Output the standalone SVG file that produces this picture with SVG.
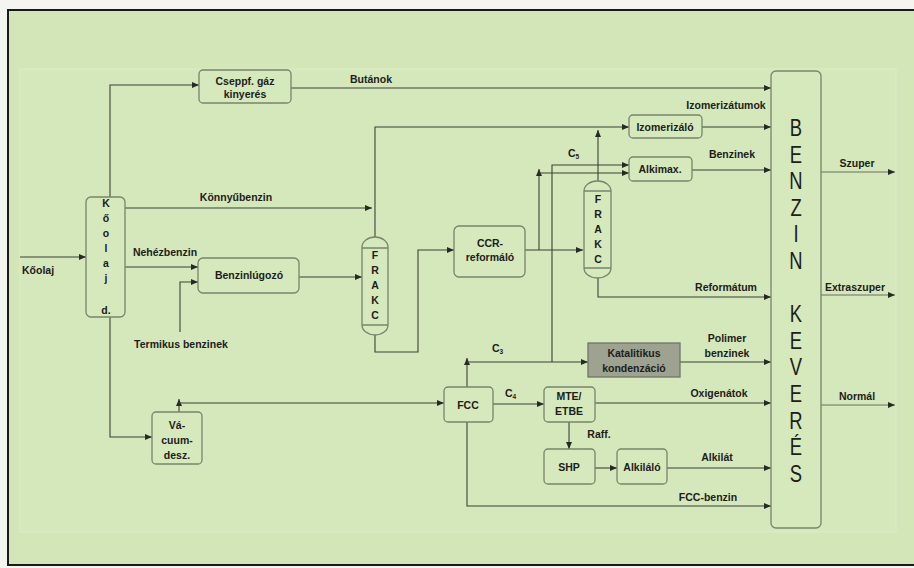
<svg xmlns="http://www.w3.org/2000/svg" width="914" height="568" viewBox="0 0 914 568">
  <style>
    .bg { fill: #d3e6b8; }
    .inner { fill: #d5e8bb; stroke: #dbebc5; stroke-width: 1.2; }
    .frame { fill: none; stroke: #1a1a1a; stroke-width: 2; }
    .box { fill: #d6e9bd; stroke: #78846c; stroke-width: 1.3; }
    .dark { fill: #9da291; stroke: #6f7566; stroke-width: 1.3; }
    .ln { fill: none; stroke: #3c4137; stroke-width: 1.1; }
    .out { fill: none; stroke: #5a6052; stroke-width: 0.9; }
    text { font-family: "Liberation Sans", Arial, sans-serif; fill: #1d2019; }
    .t { font-size: 10.5px; font-weight: bold; text-anchor: middle; }
    .tl { font-size: 10.5px; font-weight: bold; }
    .big { font-size: 23px; text-anchor: middle; }
    .sub { font-size: 6.5px; }
  </style>
  <defs>
    <marker id="ah" viewBox="0 0 7 6" refX="7" refY="3" markerWidth="7" markerHeight="6" markerUnits="userSpaceOnUse" orient="auto">
      <path d="M0,0 L7,3 L0,6 z" fill="#262a22"/>
    </marker>
  </defs>

  <!-- page and panel -->
  <rect x="0" y="0" width="914" height="568" fill="#f4f5f1"/>
  <rect class="bg" x="8" y="10" width="906" height="555"/>
  <rect class="inner" x="20" y="69" width="876" height="463"/>
  <path class="frame" d="M914,10 H8 V565 H914"/>

  <!-- connectors -->
  <g id="connectors">
    <path class="ln" d="M20,257 H86" marker-end="url(#ah)"/>
    <path class="ln" d="M110,197 V85 H199" marker-end="url(#ah)"/>
    <path class="ln" d="M291,88 H771" marker-end="url(#ah)"/>
    <path class="ln" d="M125,208 H372" marker-end="url(#ah)"/>
    <path class="ln" d="M125,267 H198" marker-end="url(#ah)"/>
    <path class="ln" d="M180,332 V282 H198" marker-end="url(#ah)"/>
    <path class="ln" d="M299,277 H362" marker-end="url(#ah)"/>
    <path class="ln" d="M375,237 V127 H629" marker-end="url(#ah)"/>
    <path class="ln" d="M375,335 V352 H418 V250 H454" marker-end="url(#ah)"/>
    <path class="ln" d="M525,250 H583" marker-end="url(#ah)"/>
    <path class="ln" d="M539,250 V169" marker-end="url(#ah)"/>
    <path class="ln" d="M539,173 H629" marker-end="url(#ah)"/>
    <path class="ln" d="M598,181 V130" marker-end="url(#ah)"/>
    <path class="ln" d="M598,278 V297 H771" marker-end="url(#ah)"/>
    <path class="ln" d="M552,362 V165 H629" marker-end="url(#ah)"/>
    <path class="ln" d="M702,127 H771" marker-end="url(#ah)"/>
    <path class="ln" d="M692,170 H771" marker-end="url(#ah)"/>
    <path class="ln" d="M110,317 V437 H152" marker-end="url(#ah)"/>
    <path class="ln" d="M179,412 V399" marker-end="url(#ah)"/>
    <path class="ln" d="M179,403 H444" marker-end="url(#ah)"/>
    <path class="ln" d="M467,387 V358" marker-end="url(#ah)"/>
    <path class="ln" d="M467,362 H588" marker-end="url(#ah)"/>
    <path class="ln" d="M680,362 H771" marker-end="url(#ah)"/>
    <path class="ln" d="M493,404 H544" marker-end="url(#ah)"/>
    <path class="ln" d="M595,403 H771" marker-end="url(#ah)"/>
    <path class="ln" d="M569,422 V449" marker-end="url(#ah)"/>
    <path class="ln" d="M595,468 H617" marker-end="url(#ah)"/>
    <path class="ln" d="M667,468 H771" marker-end="url(#ah)"/>
    <path class="ln" d="M467,422 V506 H771" marker-end="url(#ah)"/>
    <path class="out" d="M821,172 H895" marker-end="url(#ah)"/>
    <path class="out" d="M821,295 H895" marker-end="url(#ah)"/>
    <path class="out" d="M821,405 H895" marker-end="url(#ah)"/>

    <!-- stream labels -->
    <text class="tl" x="22" y="274">Kőolaj</text>
    <text class="t" x="371" y="83">Butánok</text>
    <text class="t" x="236" y="201">Könnyűbenzin</text>
    <text class="t" x="165" y="256">Nehézbenzin</text>
    <text class="t" x="181" y="348">Termikus benzinek</text>
    <text class="t" x="726" y="109">Izomerizátumok</text>
    <text class="t" x="732" y="158">Benzinek</text>
    <text class="tl" x="568" y="157">C<tspan class="sub" dy="1.5">5</tspan></text>
    <text class="t" x="726" y="291">Reformátum</text>
    <text class="t" x="727" y="342">Polimer</text>
    <text class="t" x="727" y="357">benzinek</text>
    <text class="tl" x="492" y="352">C<tspan class="sub" dy="1.5">3</tspan></text>
    <text class="tl" x="505" y="397">C<tspan class="sub" dy="1.5">4</tspan></text>
    <text class="t" x="719" y="397">Oxigenátok</text>
    <text class="t" x="599" y="438">Raff.</text>
    <text class="t" x="717" y="461">Alkilát</text>
    <text class="t" x="708" y="501">FCC-benzin</text>
    <text class="t" x="857" y="167">Szuper</text>
    <text class="t" x="855" y="291">Extraszuper</text>
    <text class="t" x="857" y="400">Normál</text>
  </g>

  <!-- crude distillation column -->
  <g id="koolaj-d">
    <rect class="box" x="86" y="197" width="39" height="120" rx="5"/>
    <text class="t" x="106" y="207">K</text>
    <text class="t" x="106" y="222">ő</text>
    <text class="t" x="106" y="237">o</text>
    <text class="t" x="106" y="252">l</text>
    <text class="t" x="106" y="267">a</text>
    <text class="t" x="106" y="282">j</text>
    <text class="t" x="106" y="314">d.</text>
  </g>

  <g id="cseppf-gaz">
    <rect class="box" x="199" y="70" width="92" height="33" rx="4"/>
    <text class="t" x="245" y="85">Cseppf. gáz</text>
    <text class="t" x="245" y="98">kinyerés</text>
  </g>

  <g id="benzinlugozo">
    <rect class="box" x="198" y="258" width="101" height="35" rx="5"/>
    <text class="t" x="249" y="279">Benzinlúgozó</text>
  </g>

  <!-- fractionating column 1 -->
  <g id="frakc-1">
    <rect class="box" x="362" y="237" width="26" height="98" rx="13" ry="10"/>
    <path class="box" d="M362,248 H388 M362,325 H388" fill="none"/>
    <text class="t" x="375" y="259">F</text>
    <text class="t" x="375" y="274">R</text>
    <text class="t" x="375" y="289">A</text>
    <text class="t" x="375" y="304">K</text>
    <text class="t" x="375" y="319">C</text>
  </g>

  <g id="ccr-reformalo">
    <rect class="box" x="454" y="226" width="71" height="51" rx="5"/>
    <text class="t" x="490" y="247">CCR-</text>
    <text class="t" x="490" y="261">reformáló</text>
  </g>

  <!-- fractionating column 2 -->
  <g id="frakc-2">
    <rect class="box" x="584" y="181" width="27" height="97" rx="13" ry="10"/>
    <path class="box" d="M584,191 H611 M584,268 H611" fill="none"/>
    <text class="t" x="598" y="203">F</text>
    <text class="t" x="598" y="218">R</text>
    <text class="t" x="598" y="233">A</text>
    <text class="t" x="598" y="248">K</text>
    <text class="t" x="598" y="263">C</text>
  </g>

  <g id="izomerizalo">
    <rect class="box" x="629" y="115" width="73" height="23" rx="4"/>
    <text class="t" x="665" y="131">Izomerizáló</text>
  </g>

  <g id="alkimax">
    <rect class="box" x="629" y="157" width="63" height="24" rx="4"/>
    <text class="t" x="660" y="173">Alkimax.</text>
  </g>

  <g id="katalitikus-kondenzacio">
    <rect class="dark" x="588" y="343" width="92" height="34"/>
    <text class="t" x="634" y="357">Katalitikus</text>
    <text class="t" x="634" y="372">kondenzáció</text>
  </g>

  <g id="vacuumdesz">
    <rect class="box" x="152" y="412" width="50" height="52" rx="4"/>
    <text class="t" x="177" y="429">Vá-</text>
    <text class="t" x="177" y="444">cuum-</text>
    <text class="t" x="177" y="459">desz.</text>
  </g>

  <g id="fcc">
    <rect class="box" x="444" y="387" width="49" height="35" rx="4"/>
    <text class="t" x="468" y="409">FCC</text>
  </g>

  <g id="mte-etbe">
    <rect class="box" x="544" y="387" width="51" height="35" rx="4"/>
    <text class="t" x="569" y="400">MTE/</text>
    <text class="t" x="569" y="415">ETBE</text>
  </g>

  <g id="shp">
    <rect class="box" x="544" y="449" width="51" height="35" rx="4"/>
    <text class="t" x="569" y="471">SHP</text>
  </g>

  <g id="alkilalo">
    <rect class="box" x="617" y="449" width="50" height="35" rx="4"/>
    <text class="t" x="642" y="471">Alkiláló</text>
  </g>

  <!-- gasoline blending -->
  <g id="benzin-keveres">
    <rect class="box" x="771" y="71" width="50" height="457" rx="5"/>
    <g transform="translate(796 0) scale(0.8 1)">
      <text class="big" x="0" y="136">B</text>
      <text class="big" x="0" y="163">E</text>
      <text class="big" x="0" y="189">N</text>
      <text class="big" x="0" y="216">Z</text>
      <text class="big" x="0" y="242">I</text>
      <text class="big" x="0" y="269">N</text>
      <text class="big" x="0" y="322">K</text>
      <text class="big" x="0" y="349">E</text>
      <text class="big" x="0" y="375">V</text>
      <text class="big" x="0" y="402">E</text>
      <text class="big" x="0" y="429">R</text>
      <text class="big" x="0" y="455">É</text>
      <text class="big" x="0" y="482">S</text>
    </g>
  </g>
</svg>
